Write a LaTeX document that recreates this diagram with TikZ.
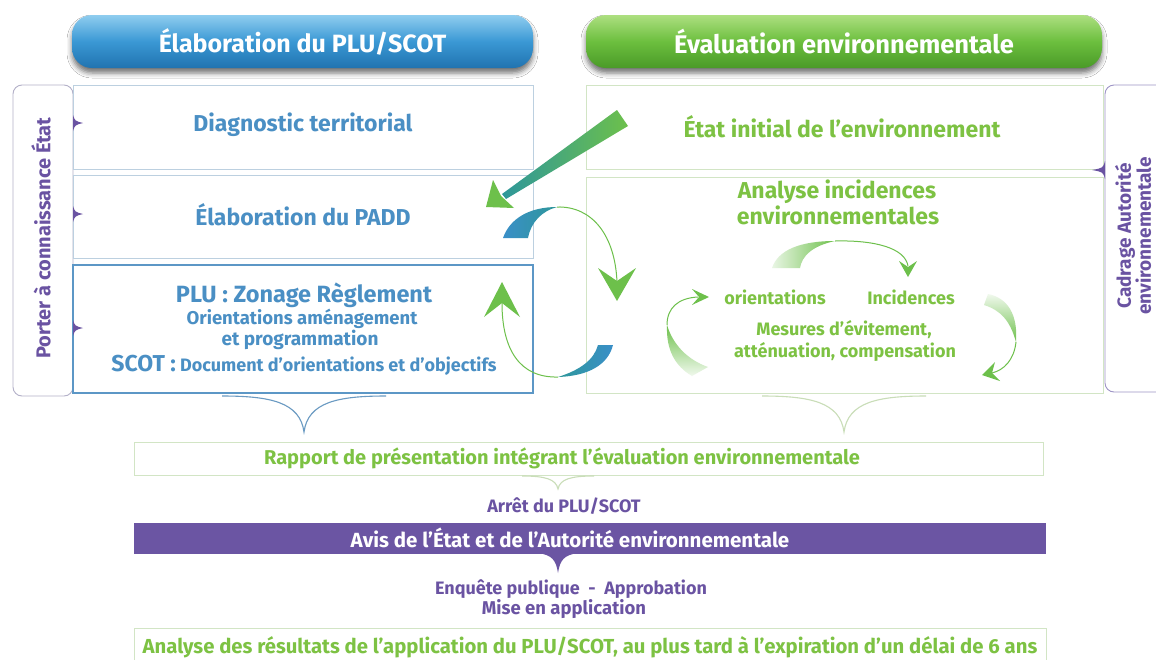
\documentclass[tikz,border=0pt]{standalone}
\usepackage{fontspec}
\setmainfont{Fira Sans}
\usetikzlibrary{shadows.blur,calc}
\definecolor{tblue}{HTML}{4A8FC4}
\definecolor{tgreen}{HTML}{7DC243}
\definecolor{tpurple}{HTML}{6A53A2}
\definecolor{bblue}{HTML}{BCD0E0}
\definecolor{bblue2}{HTML}{5C97C6}
\definecolor{bgreen}{HTML}{D2E5C5}
\definecolor{pillBa}{HTML}{8FCDEF}
\definecolor{pillBb}{HTML}{3A98D4}
\definecolor{pillBc}{HTML}{2173B0}
\definecolor{pillGa}{HTML}{ADDF80}
\definecolor{pillGb}{HTML}{6CBF3E}
\definecolor{pillGc}{HTML}{4A9A28}
\definecolor{arrG}{HTML}{6DC04B}
\definecolor{arrT}{HTML}{2E979A}
\definecolor{bandB}{HTML}{3A8FC8}
\definecolor{tabline}{HTML}{B3B0C8}
\definecolor{tabline2}{HTML}{9E94C6}
\definecolor{barP}{HTML}{6B55A3}
\definecolor{braceB}{HTML}{6A9AC2}
\definecolor{braceG}{HTML}{C9DDB8}
\begin{document}
\begin{tikzpicture}[x=1pt,y=-1pt,
  pill/.style={rounded corners=20pt, minimum height=53pt, inner sep=0pt, outer sep=0pt,
    text=white, font=\bfseries\fontsize{25}{28}\selectfont,
    blur shadow={shadow xshift=0pt, shadow yshift=-5pt, shadow blur radius=5pt, shadow opacity=55}},
  pillblue/.style={pill, top color=pillBa, bottom color=pillBc, middle color=pillBb},
  pillgreen/.style={pill, top color=pillGa, bottom color=pillGc, middle color=pillGb},
  lbox/.style={draw=bblue, line width=1pt, inner sep=0pt, outer sep=0pt, fill=white},
  rbox/.style={draw=bgreen, line width=1pt, inner sep=0pt, outer sep=0pt, fill=white},
  tabbox/.style={draw=tabline, line width=0.9pt, rounded corners=9pt, inner sep=0pt, outer sep=0pt},
  btxt/.style={text=tblue, font=\bfseries\fontsize{23}{26}\selectfont, inner sep=0pt},
  gtxt/.style={text=tgreen, font=\bfseries\fontsize{23}{26}\selectfont, inner sep=0pt},
  ptxt/.style={text=tpurple, font=\bfseries\fontsize{18}{21}\selectfont, inner sep=0pt},
  tri/.style={fill=tpurple},
  headG/.style={fill=arrG},
  thin/.style={draw=arrG, line width=1pt},
]
\useasboundingbox (0,0) rectangle (1156,659);
\clip (0,0) rectangle (1156,659);
\fill[white] (0,0) rectangle (1156,659);

% header pills
\node[pillblue, minimum width=461pt] (hL) at (302.5,41.5) {Élaboration du PLU/SCOT};
\node[pillgreen, minimum width=516pt, font=\bfseries\fontsize{25.5}{28}\selectfont] (hR) at (844,41.5) {Évaluation environnementale};

% side tabs
\node[tabbox, minimum width=60pt, minimum height=311pt] (tabL) at (43,240.5) {};
\node[tabbox, draw=tabline2, minimum width=65pt, minimum height=307pt] (tabR) at (1137.5,238.5) {};
\node[ptxt, rotate=90, font=\bfseries\fontsize{20}{22}\selectfont] (tabLt) at (41,238) {Porter à connaissance État};
\node[ptxt, rotate=90, align=center, font=\bfseries\fontsize{19}{20}\selectfont] (tabRt) at (1133,236) {Cadrage Autorité\\environnementale};

% left column boxes
\node[lbox, minimum width=460pt, minimum height=84pt] (d1) at (303,127) {};
\node[lbox, minimum width=460pt, minimum height=83pt] (d2) at (303,216.5) {};
\node[lbox, draw=bblue2, line width=1.3pt, minimum width=460pt, minimum height=128pt] (d3) at (303,329) {};
% right column boxes
\node[rbox, minimum width=517pt, minimum height=84pt] (e1) at (844.5,127) {};
\node[rbox, minimum width=517pt, minimum height=216pt] (e2) at (844.5,285) {};

% tab triangles
\coordinate (tL1) at (73,123);
\coordinate (tL2) at (73,214);
\coordinate (tL3) at (73,328);
\foreach \c in {tL1,tL2,tL3}{
  \fill[tri] ($(\c)+(0,-8)$) .. controls ($(\c)+(2,-2)$) .. ($(\c)+(10,0)$) .. controls ($(\c)+(2,2)$) .. ($(\c)+(0,8)$) -- cycle;
}
\coordinate (tR1) at (1105,170);
\fill[tri] ($(tR1)+(0,-9)$) .. controls ($(tR1)+(-2,-2)$) .. ($(tR1)+(-13,0)$) .. controls ($(tR1)+(-2,2)$) .. ($(tR1)+(0,9)$) -- cycle;

% left texts
\node[btxt] (diag) at (303,125) {Diagnostic territorial};
\node[btxt] (padd) at (303,215) {Élaboration du PADD};
\node[btxt, font=\bfseries\fontsize{23.5}{26}\selectfont] (plu) at (304,295) {PLU : Zonage Règlement};
\node[btxt, font=\bfseries\fontsize{18.5}{22}\selectfont] (ori) at (302,319) {Orientations aménagement};
\node[btxt, font=\bfseries\fontsize{19}{22}\selectfont] (prog) at (300,340) {et programmation};
\node[btxt, font=\bfseries\fontsize{18}{22}\selectfont] (scot) at (304,365) {{\fontsize{23}{26}\selectfont SCOT :} Document d’orientations et d’objectifs};

% right texts
\node[gtxt] (etat) at (842,127) {État initial de l’environnement};
\node[gtxt] (anal) at (837,192) {Analyse incidences};
\node[gtxt] (envt) at (838,215) {environnementales};
\node[gtxt, font=\bfseries\fontsize{18}{21}\selectfont] (orient) at (775,297) {orientations};
\node[gtxt, font=\bfseries\fontsize{18}{21}\selectfont] (incid) at (911,297) {Incidences};
\node[gtxt, font=\bfseries\fontsize{18}{21}\selectfont] (mes1) at (844,330) {Mesures d’évitement,};
\node[gtxt, font=\bfseries\fontsize{18}{21}\selectfont] (mes2) at (845,352) {atténuation, compensation};

% big arrows between columns
\shade[left color=arrT, right color=arrG] (617,110) -- (628,126) -- (506,199) -- (502,194) -- cycle;
\fill[headG] (486,207) -- (493,180) -- (501,196) -- (514,208) -- cycle;

\shade[left color=bandB, right color=arrT] (503,238) .. controls (510,218) and (530,207) .. (557,207) .. controls (542,211) and (531,222) .. (528,238) -- cycle;
\draw[thin] (557,207) .. controls (592,206) and (615,235) .. (617,282);
\fill[headG] (617,301) -- (598,268) -- (617,281) -- (636,268) -- cycle;

\shade[left color=arrT, right color=bandB] (613,345) .. controls (608,365) and (588,376) .. (558,377) .. controls (580,370) and (594,360) .. (598,345) -- cycle;
\draw[thin] (558,377) .. controls (520,378) and (502,350) .. (502,303);
\fill[headG] (502,282) -- (484,317) -- (502,303) -- (520,317) -- cycle;

% inner cycle arrows
\shade[left color=arrG!15, right color=arrG] (772,268) .. controls (778,250) and (800,241) .. (835,241) .. controls (812,246) and (802,256) .. (800,268) -- cycle;
\draw[thin] (835,241) .. controls (875,240) and (905,248) .. (908,266);
\fill[headG] (908,277) -- (899,261) -- (908,267) -- (917,261) -- cycle;

\shade[top color=arrG, bottom color=arrG!10] (692,376) .. controls (675,366) and (666,350) .. (667,325) .. controls (673,345) and (688,360) .. (708,367) -- cycle;
\draw[thin] (667,325) .. controls (667,308) and (678,298) .. (698,297);
\fill[headG] (709,297) -- (692,289) -- (699,297) -- (692,305) -- cycle;

\shade[top color=arrG!10, bottom color=arrG] (988,294) .. controls (1008,298) and (1018,315) .. (1016,342) .. controls (1010,320) and (1000,310) .. (984,305) -- cycle;
\draw[thin] (1016,342) .. controls (1014,360) and (1004,370) .. (992,373);
\fill[headG] (982,375) -- (995,362) -- (992,373) -- (1000,381) -- cycle;

% braces
\draw[braceB, line width=1.1pt] (222,396) .. controls (270,396) and (300,402) .. (304,432) .. controls (308,402) and (338,396) .. (386,396);
\draw[braceG, line width=1.1pt] (762,396) .. controls (810,396) and (840,402) .. (844,432) .. controls (848,402) and (878,396) .. (926,396);

% bottom part
\node[rbox, draw=bgreen, minimum width=909pt, minimum height=33pt] (rapbox) at (588.5,458.5) {};
\node[gtxt, font=\bfseries\fontsize{20}{23}\selectfont] (rap) at (562,458) {Rapport de présentation intégrant l’évaluation environnementale};
\draw[braceG, line width=1.1pt] (522,476) .. controls (545,476) and (556,479) .. (558,489) .. controls (560,479) and (571,476) .. (594,476);
\node[ptxt, font=\bfseries\fontsize{18}{21}\selectfont] (arret) at (564,506) {Arrêt du PLU/SCOT};
\node[fill=barP, minimum width=912pt, minimum height=31pt, inner sep=0pt] (avisbar) at (590,538.5) {};
\node[text=white, font=\bfseries\fontsize{20.5}{23}\selectfont, inner sep=0pt] (avis) at (570,538) {Avis de l’État et de l’Autorité environnementale};
\fill[barP] (538,553) .. controls (552,555) and (556,560) .. (558,573) .. controls (560,560) and (564,555) .. (578,553) -- cycle;
\node[ptxt, font=\bfseries\fontsize{18}{21}\selectfont] (enq) at (571,589) {Enquête publique \ - \ Approbation};
\node[ptxt, font=\bfseries\fontsize{18.5}{21}\selectfont] (mise) at (564,609) {Mise en application};
\node[rbox, minimum width=912pt, minimum height=42pt] (lastbox) at (590,649) {};
\node[gtxt, font=\bfseries\fontsize{20.3}{23}\selectfont] (res) at (590,647) {Analyse des résultats de l’application du PLU/SCOT, au plus tard à l’expiration d’un délai de 6 ans};
\end{tikzpicture}
\end{document}
